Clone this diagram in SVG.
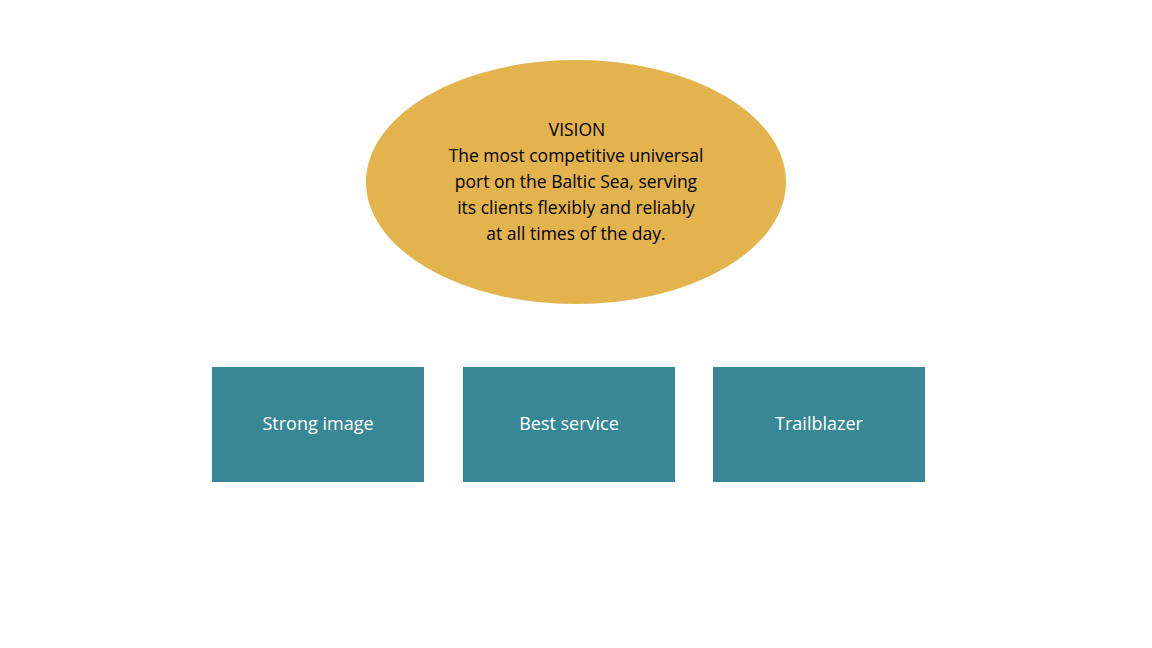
<svg xmlns="http://www.w3.org/2000/svg" width="1152" height="648" viewBox="0 0 1152 648">
<style>
.box{fill:#388795}
.bt{font-family:"Open Sans","Liberation Sans",sans-serif;font-size:18px;fill:#ffffff;text-anchor:middle}
.vt{font-family:"Open Sans","Liberation Sans",sans-serif;font-size:17.5px;fill:#000000;text-anchor:middle}
</style>
<rect width="1152" height="648" fill="#ffffff"/>
<g id="vision">
<ellipse cx="576" cy="182" rx="210" ry="122" fill="#e3b34d"/>
<text class="vt" x="577" y="136">VISION</text>
<text class="vt" x="576" y="162">The most competitive universal</text>
<text class="vt" x="576" y="188">port on the Baltic Sea, serving</text>
<text class="vt" x="576" y="214">its clients flexibly and reliably</text>
<text class="vt" x="576" y="240">at all times of the day.</text>
</g>
<g id="strong-image"><rect class="box" x="212" y="367" width="212" height="115"/><text class="bt" x="318" y="430">Strong image</text></g>
<g id="best-service"><rect class="box" x="463" y="367" width="212" height="115"/><text class="bt" x="569" y="430">Best service</text></g>
<g id="trailblazer"><rect class="box" x="713" y="367" width="212" height="115"/><text class="bt" x="819" y="430">Trailblazer</text></g>
<g id="connectors"/>
</svg>
